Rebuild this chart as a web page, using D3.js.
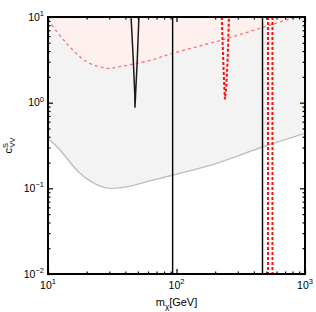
<!DOCTYPE html>
<html>
<head>
<meta charset="utf-8">
<script src="https://cdn.jsdelivr.net/npm/d3@7"></script>
<style>
  body { margin: 0; background: #fff; }
  text { font-family: "Liberation Sans", Arial, sans-serif; fill: #000; }
</style>
</head>
<body>
<script>
// grey limit curve (filled above)
var greyM = [10, 12.4, 17.7, 25.4, 30.4, 43.5, 62.2, 94.4, 205, 473, 1000];
var greyC = [0.384, 0.280, 0.150, 0.106, 0.100, 0.106, 0.122, 0.143, 0.196, 0.306, 0.439];
// red dashed limit curve (pink filled above)
var redM = [10, 13.6, 20, 28.6, 36.3, 46.1, 62.2, 93.3, 225, 473, 738, 820];
var redC = [9.23, 5.15, 3.01, 2.52, 2.63, 2.83, 3.11, 3.77, 5.39, 7.59, 9.40, 10];
// black resonance dip
var blackVM = [44.3, 46.1, 47.3, 47.5, 48.1, 49.5, 51.0];
var blackVC = [10, 3.15, 1.29, 0.873, 1.29, 3.15, 10];
// red dashed resonance dip
var redVM = [225, 231, 235.5, 238, 244, 250, 256];
var redVC = [10, 3.15, 1.54, 1.095, 1.54, 3.15, 10];
// vertical lines
var blackVert = [93.3, 467];
var redVert = [515, 558];
// ticks
var majorX = [10, 100, 1000];
var majorY = [0.01, 0.1, 1, 10];
var xLabels = ["1", "2", "3"];
var yLabels = ["\u22122", "\u22121", "0", "1"];

var W = 316, H = 312;
var margin = {top: 17, right: 11, bottom: 38, left: 48};

var svg = d3.select("body").append("svg")
  .attr("width", W).attr("height", H);

var x = d3.scaleLog().domain([10, 1000]).range([margin.left, W - margin.right]);
var y = d3.scaleLog().domain([0.01, 10]).range([H - margin.bottom, margin.top]);

svg.append("clipPath").attr("id", "clip")
  .append("rect")
  .attr("x", x(10)).attr("y", y(10))
  .attr("width", x(1000) - x(10)).attr("height", y(0.01) - y(10));

var plot = svg.append("g").attr("clip-path", "url(#clip)");

function pts(ms, cs) {
  return ms.map(function (m, i) { return [m, cs[i]]; });
}

var smooth = d3.curveCatmullRom.alpha(0.5);

var line = d3.line()
  .x(function (d) { return x(d[0]); })
  .y(function (d) { return y(d[1]); })
  .curve(smooth);

var area = d3.area()
  .x(function (d) { return x(d[0]); })
  .y0(function () { return y(10) - 2; })
  .y1(function (d) { return y(d[1]); })
  .curve(smooth);

var greyPts = pts(greyM, greyC);
var redPts = pts(redM, redC);

plot.append("path").datum(greyPts)
  .attr("d", area).attr("fill", "#f3f3f3");
plot.append("path").datum(redPts)
  .attr("d", area).attr("fill", "#fff0f0");

plot.append("path").datum(greyPts)
  .attr("d", line).attr("fill", "none")
  .attr("stroke", "#bdbdbd").attr("stroke-width", 1.4);

plot.append("path").datum(redPts)
  .attr("d", line).attr("fill", "none")
  .attr("stroke", "#ff7070").attr("stroke-width", 1.3)
  .attr("stroke-dasharray", "3,3");

var vline = d3.line()
  .x(function (d) { return x(d[0]); })
  .y(function (d) { return y(d[1]); });

plot.append("path").datum(pts(blackVM, blackVC))
  .attr("d", vline).attr("fill", "none")
  .attr("stroke", "#1a1a1a").attr("stroke-width", 1.5);

plot.append("path").datum(pts(redVM, redVC))
  .attr("d", vline).attr("fill", "none")
  .attr("stroke", "#ff1010").attr("stroke-width", 2)
  .attr("stroke-dasharray", "3,2");

plot.selectAll("line.bv").data(blackVert).enter().append("line")
  .attr("class", "bv")
  .attr("x1", function (d) { return x(d); }).attr("x2", function (d) { return x(d); })
  .attr("y1", y(10)).attr("y2", y(0.01))
  .attr("stroke", "#000").attr("stroke-width", 1.4);

plot.selectAll("line.rv").data(redVert).enter().append("line")
  .attr("class", "rv")
  .attr("x1", function (d) { return x(d); }).attr("x2", function (d) { return x(d); })
  .attr("y1", y(10)).attr("y2", y(0.01))
  .attr("stroke", "#ff1010").attr("stroke-width", 2)
  .attr("stroke-dasharray", "3,2");

// minor tick values
var minorX = [], minorY = [];
[10, 100].forEach(function (d) { for (var k = 2; k <= 9; k++) minorX.push(d * k); });
[0.01, 0.1, 1].forEach(function (d) { for (var k = 2; k <= 9; k++) minorY.push(d * k); });

function addAxis(axisFn, scale, values, size, tr) {
  var g = svg.append("g").attr("transform", tr)
    .call(axisFn(scale).tickValues(values).tickSize(size).tickFormat(""));
  g.select(".domain").remove();
  g.selectAll(".tick line").attr("stroke", "#000").attr("stroke-width", 1.2);
}

var bottomY = y(0.01), topY = y(10), leftX = x(10), rightX = x(1000);
addAxis(d3.axisBottom, x, minorX, -2.5, "translate(0," + bottomY + ")");
addAxis(d3.axisBottom, x, majorX, -5, "translate(0," + bottomY + ")");
addAxis(d3.axisTop, x, minorX, -2.5, "translate(0," + topY + ")");
addAxis(d3.axisTop, x, majorX, -5, "translate(0," + topY + ")");
addAxis(d3.axisLeft, y, minorY, -2.5, "translate(" + leftX + ",0)");
addAxis(d3.axisLeft, y, majorY, -5, "translate(" + leftX + ",0)");
addAxis(d3.axisRight, y, minorY, -2.5, "translate(" + rightX + ",0)");
addAxis(d3.axisRight, y, majorY, -5, "translate(" + rightX + ",0)");

// frame
svg.append("rect")
  .attr("x", leftX).attr("y", topY)
  .attr("width", rightX - leftX).attr("height", bottomY - topY)
  .attr("fill", "none").attr("stroke", "#000").attr("stroke-width", 2);

// tick labels
svg.selectAll("text.xl").data(majorX).enter().append("text")
  .attr("class", "xl")
  .attr("x", function (d) { return x(d); })
  .attr("y", bottomY + 14.5)
  .attr("text-anchor", "middle")
  .attr("font-size", 10.5)
  .each(function (d, i) {
    var t = d3.select(this);
    t.append("tspan").text("10");
    t.append("tspan").attr("font-size", 7.5).attr("dy", -4.5).text(xLabels[i]);
  });

svg.selectAll("text.yl").data(majorY).enter().append("text")
  .attr("class", "yl")
  .attr("x", leftX - 4)
  .attr("y", function (d) { return y(d) + 3.5; })
  .attr("text-anchor", "end")
  .attr("font-size", 10.5)
  .each(function (d, i) {
    var t = d3.select(this);
    t.append("tspan").text("10");
    t.append("tspan").attr("font-size", 7.5).attr("dy", -4.5).text(yLabels[i]);
  });

// axis titles
var xt = svg.append("text")
  .attr("x", (leftX + rightX) / 2)
  .attr("y", H - 6)
  .attr("text-anchor", "middle")
  .attr("font-size", 11);
xt.append("tspan").text("m");
xt.append("tspan").attr("font-size", 8).attr("dy", 2.5).text("\u03c7");
xt.append("tspan").attr("dy", -2.5).text("[GeV]");

var yt = svg.append("text")
  .attr("transform", "translate(12," + ((topY + bottomY) / 2) + ") rotate(-90)")
  .attr("text-anchor", "middle")
  .attr("font-size", 11);
yt.append("tspan").text("c");
yt.append("tspan").attr("font-size", 7.5).attr("dy", -4.5).text("S");
yt.append("tspan").attr("font-size", 7.5).attr("dx", -4.5).attr("dy", 7.5).text("VV");
</script>
</body>
</html>
